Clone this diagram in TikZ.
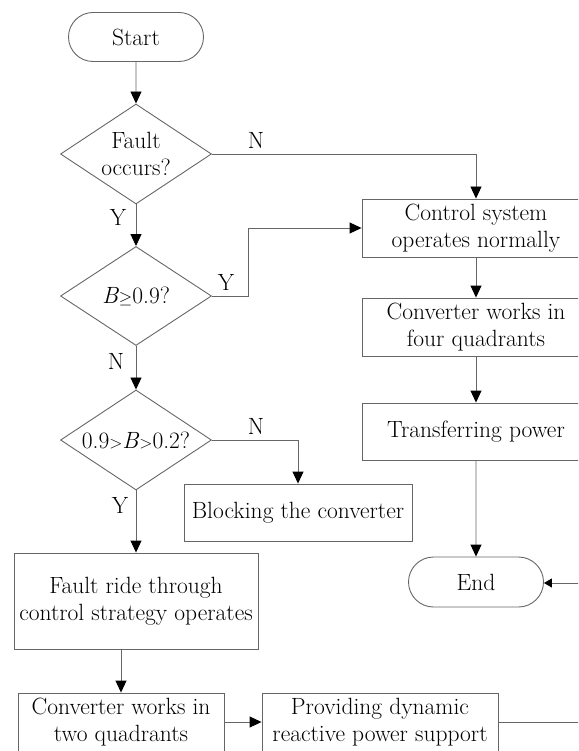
\documentclass[tikz,border=0pt]{standalone}
\usetikzlibrary{shapes.geometric,shapes.misc,arrows.meta}
\newcommand{\smallrel}[1]{{\fontsize{16}{20}\selectfont$#1$}}
\begin{document}
\begin{tikzpicture}[x=1pt,y=-1pt,line width=0.9pt,
  every node/.style={font=\fontsize{23.5}{27}\selectfont},
  box/.style={draw=black!60,rectangle,minimum width=228pt,minimum height=58pt,align=center,inner sep=0pt},
  term/.style={draw=black!60,rounded rectangle,minimum width=135pt,minimum height=49pt,inner sep=0pt},
  test/.style={draw=black!60,diamond,aspect=1.5,minimum width=151pt,minimum height=100pt,align=center,inner sep=-12pt},
  flow/.style={draw=black!60,-{Triangle[length=12pt,width=11pt,color=black]}},
  flowsmall/.style={draw=black!60,-{Triangle[length=8pt,width=9pt,color=black]}}]
\useasboundingbox (0,0) rectangle (578,751);
\clip (0,0) rectangle (578,751);
\node[term] (start) at (136,37) {Start};
\node[test] (fault) at (136,154) {Fault\\occurs?};
\node[test,minimum height=99pt] (high) at (136,296) {\textit{B}\smallrel{\geq}0.9?};
\node[test] (mid) at (136,440) {0.9\smallrel{>}\textit{B}\smallrel{>}0.2?};
\node[box] (normal) at (476,228) {Control system\\operates normally};
\node[box] (four) at (476,327) {Converter works in\\four quadrants};
\node[box,minimum height=57pt] (transfer) at (476,431.5) {Transferring power};
\node[term,minimum height=50pt] (end) at (476,582) {End};
\node[box,minimum height=57pt] (block) at (298,512.5) {Blocking the converter};
\node[box,minimum width=244pt,minimum height=96pt] (ride) at (136,601) {Fault ride through\\control strategy operates};
\node[box,minimum width=206pt] (two) at (121,722) {Converter works in\\two quadrants};
\node[box,minimum width=236pt] (support) at (380,722) {Providing dynamic\\reactive power support};
\coordinate (bend) at (248,296);
\coordinate (rout) at (600,722);
\coordinate (rin) at (600,583);
\draw[flow] (start) -- (fault);
\draw[flow] (fault.east) -| (normal.north);
\draw[flow] (fault) -- (high);
\draw[flow] (high.east) -- (bend) |- (normal.west);
\draw[flow] (high) -- (mid);
\draw[flow] (mid.east) -| (block.north);
\draw[flow] (mid) -- (ride);
\draw[flow] (normal) -- (four);
\draw[flow] (four) -- (transfer);
\draw[flow] (transfer) -- (end);
\draw[flow] (two.north |- ride.south) -- (two.north);
\draw[flow] (two) -- (support);
\draw[draw=black!60] (support.east) -- (rout);
\draw[flowsmall] (rin) -- (end.east |- rin);
\node (n1) at (256,140) {N};
\node (y1) at (118,217) {Y};
\node (y2) at (226,282) {Y};
\node (n2) at (116,361) {N};
\node (n3) at (256,426) {N};
\node (y3) at (120,505) {Y};
\end{tikzpicture}
\end{document}
